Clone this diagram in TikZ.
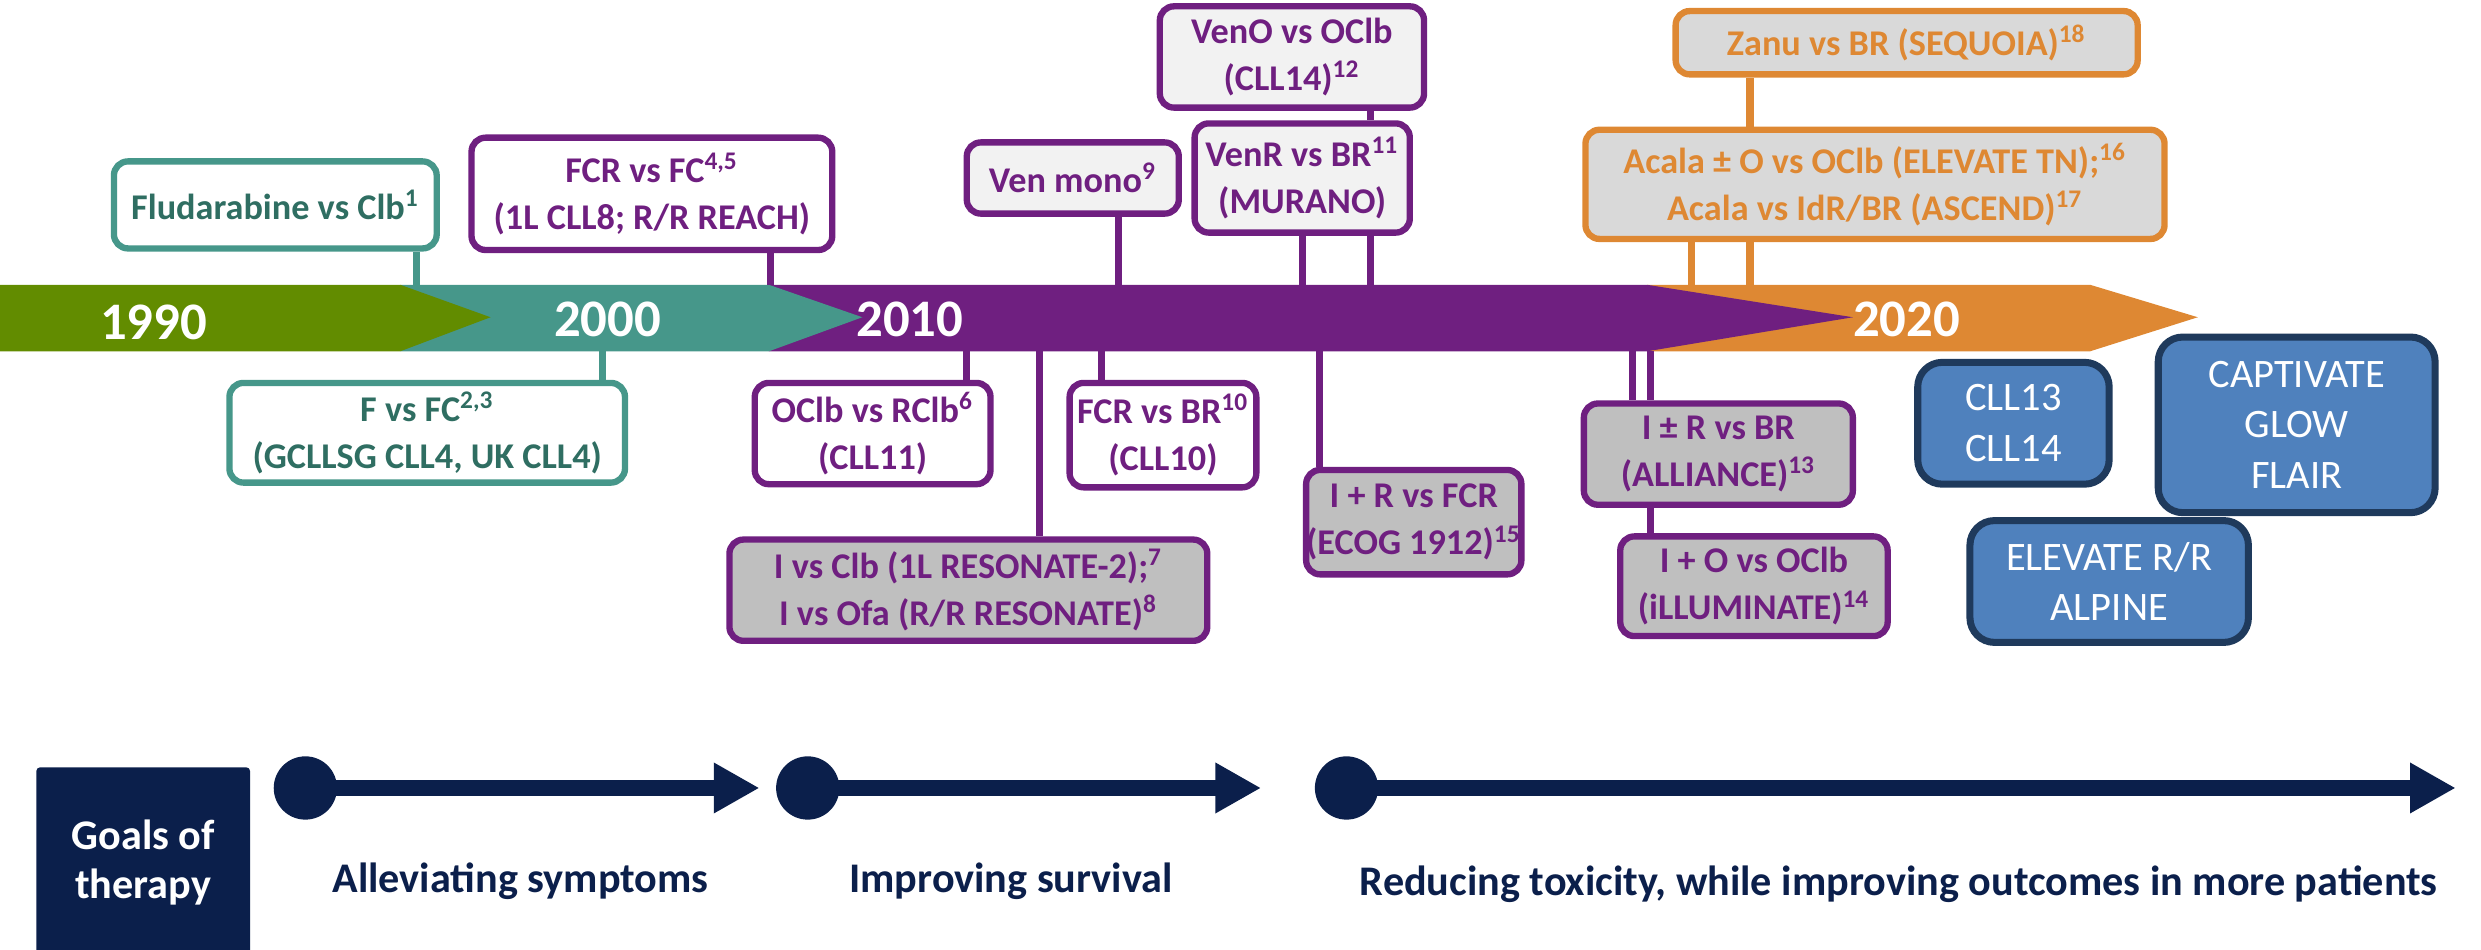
\documentclass[tikz,border=0pt]{standalone}
\usepackage{fontspec}
\setmainfont{Carlito}
\usetikzlibrary{arrows.meta}

\definecolor{bandgreen}{HTML}{628C00}
\definecolor{bandteal}{HTML}{46978A}
\definecolor{tealtext}{HTML}{2F6E62}
\definecolor{bandpurple}{HTML}{6F1F80}
\definecolor{bandorange}{HTML}{DE8833}
\definecolor{goalnavy}{HTML}{0B1F4B}
\definecolor{trialblue}{HTML}{4F81BD}
\definecolor{trialborder}{HTML}{1F3A5C}
\definecolor{boxlight}{HTML}{F2F2F2}
\definecolor{boxmid}{HTML}{D9D9D9}
\definecolor{boxdark}{HTML}{BFBFBF}

\newcommand{\px}{0.45pt}
\newcommand{\boxfont}{\fontsize{10.3}{13.4}\selectfont\bfseries}

\tikzset{
	boxsize/.style 2 args={minimum width=#1*\px, minimum height=#2*\px},
	trial/.style={draw, rounded corners=4pt, line width=1.8pt, align=center, inner sep=0pt, font=\boxfont},
	tealbox/.style={trial, draw=bandteal, fill=white, text=tealtext},
	purplebox/.style={trial, draw=bandpurple, text=bandpurple},
	orangebox/.style={trial, draw=bandorange, fill=boxmid, text=bandorange},
	bluebox/.style={draw=trialborder, fill=trialblue, text=white, rounded corners=7pt, line width=2pt, align=center, inner sep=0pt, font=\fontsize{11.5}{14.4}\selectfont},
	link/.style={line width=2pt},
	year/.style={text=white, font=\fontsize{15}{18}\selectfont\bfseries},
	goal/.style={text=goalnavy, font=\fontsize{12}{14}\selectfont\bfseries},
	dot/.style={circle, fill=goalnavy, minimum size=40*\px, inner sep=0pt},
	goalarrow/.style={goalnavy, line width=4.5pt, -{Triangle[length=13pt, width=13.5pt]}}
}

\begin{document}
\begin{tikzpicture}[x=\px, y=-\px]
	\useasboundingbox (0,0) rectangle (1568,600);

	% timeline band
	\fill[bandorange] (1041,180) -- (1321,180) -- (1389,200.5) -- (1321,222) -- (1041,222) -- cycle;
	\fill[bandpurple] (486,180) -- (1041,180) -- (1171,200.5) -- (1041,222) -- (486,222) -- cycle;
	\fill[bandteal] (253,180) -- (486,180) -- (545,200.5) -- (486,222) -- (253,222) -- cycle;
	\fill[bandgreen] (0,180) -- (253,180) -- (310,200.5) -- (253,222) -- (0,222) -- cycle;

	\node[year] (y1990) at (97,204) {1990};
	\node[year] (y2000) at (384,202) {2000};
	\node[year] (y2010) at (575,202) {2010};
	\node[year] (y2020) at (1205,202) {2020};

	% trials above the band
	\node[tealbox, boxsize={204}{55}] (flud) at (174,129.5) {Fludarabine vs Clb\textsuperscript{1}};
	\node[purplebox, fill=white, boxsize={228}{71}] (fcr) at (412,122.5) {FCR vs FC\textsuperscript{4,5}\\(1L CLL8; R/R REACH)};
	\node[purplebox, fill=boxlight, boxsize={134}{45}] (venmono) at (678,112.5) {Ven mono\textsuperscript{9}};
	\node[purplebox, fill=boxlight, boxsize={167}{64}] (veno) at (816.5,36) {VenO vs OClb\\(CLL14)\textsuperscript{12}};
	\node[purplebox, fill=boxlight, boxsize={136}{69}] (venr) at (823,112.5) {VenR vs BR\textsuperscript{11}\\(MURANO)};
	\node[orangebox, boxsize={292}{40}] (zanu) at (1205,27) {Zanu vs BR (SEQUOIA)\textsuperscript{18}};
	\node[orangebox, boxsize={366}{69}] (acala) at (1185,116.5) {Acala ± O vs OClb (ELEVATE TN);\textsuperscript{16}\\Acala vs IdR/BR (ASCEND)\textsuperscript{17}};

	% trials below the band
	\node[tealbox, boxsize={250}{63}] (fvsfc) at (270,273.5) {F vs FC\textsuperscript{2,3}\\(GCLLSG CLL4, UK CLL4)};
	\node[purplebox, fill=white, boxsize={149}{64}] (oclb) at (551.5,274) {OClb vs RClb\textsuperscript{6}\\(CLL11)};
	\node[purplebox, fill=boxdark, boxsize={302}{64}] (ivsclb) at (612,373) {I vs Clb (1L RESONATE-2);\textsuperscript{7}\\I vs Ofa (R/R RESONATE)\textsuperscript{8}};
	\node[purplebox, fill=white, boxsize={118}{66}] (fcrbr) at (735,275) {FCR vs BR\textsuperscript{10}\\(CLL10)};
	\node[purplebox, fill=boxdark, boxsize={135}{66}] (irfcr) at (893.5,330) {I + R vs FCR\\(ECOG 1912)\textsuperscript{15}};
	\node[purplebox, fill=boxdark, boxsize={170}{64}] (iall) at (1086,287) {I ± R vs BR\\(ALLIANCE)\textsuperscript{13}};
	\node[purplebox, fill=boxdark, boxsize={169}{63}] (iill) at (1108.5,370.5) {I + O vs OClb\\(iLLUMINATE)\textsuperscript{14}};

	% ongoing trials
	\node[bluebox, boxsize={121}{77}] (cll) at (1272.5,267.5) {CLL13\\CLL14};
	\node[bluebox, boxsize={175}{111}] (capt) at (1451.5,268.5) {CAPTIVATE\\GLOW\\FLAIR};
	\node[bluebox, boxsize={176}{77}] (elev) at (1333,367.5) {ELEVATE R/R\\ALPINE};

	% feet of the links on the band
	\coordinate (fflud) at (263,180);
	\coordinate (ffcr) at (487,180);
	\coordinate (fvenmono) at (707,180);
	\coordinate (fvenr) at (823,180);
	\coordinate (fveno) at (866,180);
	\coordinate (facala) at (1069,180);
	\coordinate (fzanu) at (1106,180);
	\coordinate (ffvsfc) at (381,222);
	\coordinate (foclb) at (611,222);
	\coordinate (fivsclb) at (657,222);
	\coordinate (ffcrbr) at (696,222);
	\coordinate (firfcr) at (834,222);
	\coordinate (fiall) at (1032,222);
	\coordinate (fiill) at (1043,222);

	\draw[link, bandteal] (fflud) -- (fflud |- flud.south);
	\draw[link, bandteal] (ffvsfc) -- (ffvsfc |- fvsfc.north);
	\draw[link, bandpurple] (ffcr) -- (ffcr |- fcr.south);
	\draw[link, bandpurple] (fvenmono) -- (fvenmono |- venmono.south);
	\draw[link, bandpurple] (fvenr) -- (fvenr |- venr.south);
	\draw[link, bandpurple] (fveno) -- (fveno |- venr.south);
	\draw[link, bandpurple] (fveno |- venr.north) -- (fveno |- veno.south);
	\draw[link, bandorange] (facala) -- (facala |- acala.south);
	\draw[link, bandorange] (fzanu) -- (fzanu |- acala.south);
	\draw[link, bandorange] (fzanu |- acala.north) -- (fzanu |- zanu.south);
	\draw[link, bandpurple] (foclb) -- (foclb |- oclb.north);
	\draw[link, bandpurple] (fivsclb) -- (fivsclb |- ivsclb.north);
	\draw[link, bandpurple] (ffcrbr) -- (ffcrbr |- fcrbr.north);
	\draw[link, bandpurple] (firfcr) -- (firfcr |- irfcr.north);
	\draw[link, bandpurple] (fiall) -- (fiall |- iall.north);
	\draw[link, bandpurple] (fiill) -- (fiill |- iall.north);
	\draw[link, bandpurple] (fiill |- iall.south) -- (fiill |- iill.north);

	% goals of therapy
	\node[fill=goalnavy, text=white, rounded corners=1pt, align=center, inner sep=0pt, boxsize={135}{120}, font=\fontsize{12}{14}\selectfont\bfseries] (goals) at (90.5,545) {Goals of\\therapy};

	\node[dot] (dotA) at (193,498) {};
	\node[dot] (dotB) at (510.5,498) {};
	\node[dot] (dotC) at (851,498) {};
	\coordinate (tipA) at (480,498);
	\coordinate (tipB) at (797,498);
	\coordinate (tipC) at (1552,498);
	\draw[goalarrow] (dotA.center) -- (tipA);
	\draw[goalarrow] (dotB.center) -- (tipB);
	\draw[goalarrow] (dotC.center) -- (tipC);

	\node[goal] (symptoms) at (329,557) {Alleviating symptoms};
	\node[goal] (survival) at (639,557) {Improving survival};
	\node[goal] (toxicity) at (1200,559) {Reducing toxicity, while improving outcomes in more patients};
\end{tikzpicture}
\end{document}
